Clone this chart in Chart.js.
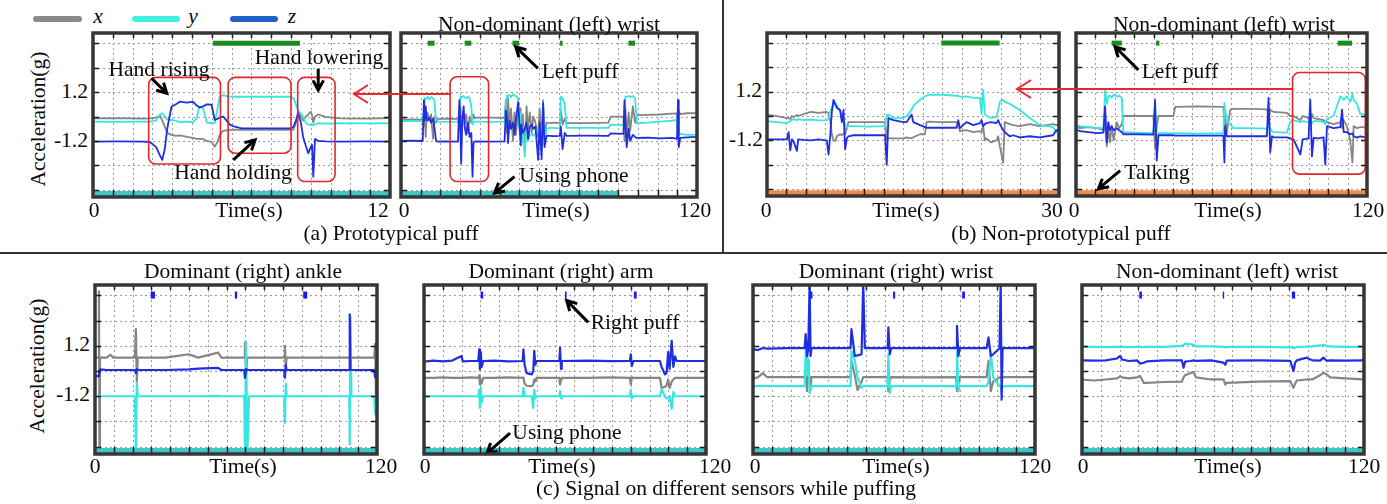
<!DOCTYPE html>
<html>
<head>
<meta charset="utf-8">
<script src="https://cdn.jsdelivr.net/npm/chart.js@4.4.0/dist/chart.umd.min.js"></script>
<style>
  body { margin: 0; background: #fff; }
  #fig { position: relative; width: 1387px; height: 504px; overflow: hidden;
         font-family: "Liberation Serif", "Times New Roman", serif; color: #0a0a0a; }
  .t { position: absolute; font-size: 21.5px; line-height: 1; white-space: nowrap; transform: translate(-50%, -50%); }
  .r { transform: translate(-100%, -50%); }
  .rot { transform: translate(-50%, -50%) rotate(-90deg); }
  .it { font-style: italic; }
  .panel { position: absolute; }
  .leg { position: absolute; height: 6px; border-radius: 3px; top: 16px; }
  #ov { position: absolute; left: 0; top: 0; pointer-events: none; }
</style>
</head>
<body>
<div id="fig">
  <div class="leg" style="left:33px;width:49px;background:#8a8a8a"></div>
  <div class="t it" style="left:98px;top:17px">x</div>
  <div class="leg" style="left:132px;width:48px;background:#40f0dc"></div>
  <div class="t it" style="left:193px;top:17px">y</div>
  <div class="leg" style="left:230px;width:48px;background:#2460cc"></div>
  <div class="t it" style="left:292px;top:17px">z</div>

  <div class="t" style="left:549px;top:25px">Non-dominant (left) wrist</div>
  <div class="t" style="left:1224px;top:25px">Non-dominant (left) wrist</div>
  <div class="t" style="left:243px;top:272px">Dominant (right) ankle</div>
  <div class="t" style="left:561px;top:272px">Dominant (right) arm</div>
  <div class="t" style="left:896px;top:272px">Dominant (right) wrist</div>
  <div class="t" style="left:1227px;top:272px">Non-dominant (left) wrist</div>

  <div class="t rot" style="left:39px;top:119px">Acceleration(g)</div>
  <div class="t rot" style="left:38px;top:366px">Acceleration(g)</div>
  <div class="t r" style="left:88px;top:92px">1.2</div>
  <div class="t r" style="left:88px;top:141px">-1.2</div>
  <div class="t r" style="left:762px;top:91px">1.2</div>
  <div class="t r" style="left:763px;top:140px">-1.2</div>
  <div class="t r" style="left:90px;top:345px">1.2</div>
  <div class="t r" style="left:90px;top:395px">-1.2</div>

  <div class="t" style="left:94px;top:211px">0</div>
  <div class="t" style="left:249px;top:211px">Time(s)</div>
  <div class="t" style="left:378px;top:211px">12</div>
  <div class="t" style="left:404px;top:211px">0</div>
  <div class="t" style="left:556px;top:211px">Time(s)</div>
  <div class="t" style="left:695px;top:211px">120</div>
  <div class="t" style="left:766px;top:211px">0</div>
  <div class="t" style="left:906px;top:211px">Time(s)</div>
  <div class="t" style="left:1052px;top:211px">30</div>
  <div class="t" style="left:1074px;top:211px">0</div>
  <div class="t" style="left:1228px;top:211px">Time(s)</div>
  <div class="t" style="left:1368px;top:211px">120</div>

  <div class="t" style="left:95px;top:467px">0</div>
  <div class="t" style="left:243px;top:467px">Time(s)</div>
  <div class="t" style="left:381px;top:467px">120</div>
  <div class="t" style="left:425px;top:467px">0</div>
  <div class="t" style="left:562px;top:467px">Time(s)</div>
  <div class="t" style="left:715px;top:467px">120</div>
  <div class="t" style="left:755px;top:467px">0</div>
  <div class="t" style="left:896px;top:467px">Time(s)</div>
  <div class="t" style="left:1035px;top:467px">120</div>
  <div class="t" style="left:1083px;top:467px">0</div>
  <div class="t" style="left:1228px;top:467px">Time(s)</div>
  <div class="t" style="left:1364px;top:467px">120</div>

  <div class="t" style="left:391px;top:234px">(a) Prototypical puff</div>
  <div class="t" style="left:1061px;top:234px">(b) Non-prototypical puff</div>
  <div class="t" style="left:726px;top:489px">(c) Signal on different sensors while puffing</div>

  <div class="t" style="left:159px;top:70px">Hand rising</div>
  <div class="t" style="left:319px;top:58px">Hand lowering</div>
  <div class="t" style="left:233px;top:173px">Hand holding</div>
  <div class="t" style="left:580px;top:72px">Left puff</div>
  <div class="t" style="left:574px;top:176px">Using phone</div>
  <div class="t" style="left:1180px;top:72px">Left puff</div>
  <div class="t" style="left:1157px;top:173px">Talking</div>
  <div class="t" style="left:635px;top:323px">Right puff</div>
  <div class="t" style="left:567px;top:433px">Using phone</div>
</div>

<script>
// ---- data ----
const gridY = [-3.6, -2.4, -1.2, 0, 1.2, 2.4, 3.6];

// (a) prototypical puff, 12 s
const a1T = [0,1,2,2.3,2.55,2.7,2.8,2.9,3,3.17,3.35,3.51,3.8,4.04,4.18,4.3,4.45,4.6,4.79,4.92,5.05,5.12,5.26,5.4,5.53,5.73,6,7,8,8.1,8.2,8.29,8.4,8.49,8.6,8.7,8.8,8.85,8.9,8.97,9.1,9.4,10,11,12];
const a1X = [-0.09,-0.08,-0.1,-0.09,-0.05,0.05,-0.2,-0.5,-0.8,-0.9,-0.95,-0.92,-1.0,-1.05,-1.1,-1.1,-1.1,-1.2,-1.25,-1.48,-1.2,-0.9,-0.7,-0.68,-0.66,-0.65,-0.66,-0.66,-0.66,-0.64,-0.3,0.2,0.0,-0.2,0.0,0.1,0.24,0.05,-0.3,0.0,0.1,-0.02,-0.09,-0.1,-0.08];
const a1Y = [-0.25,-0.26,-0.25,-0.25,-0.2,0.1,0.16,0.0,-0.15,-0.17,-0.2,-0.28,-0.25,-0.28,-0.1,0.48,0.4,-0.3,-0.33,-0.3,0.5,0.97,1.05,1.0,0.98,0.97,0.97,0.97,0.97,0.9,0.6,0.3,0.16,0.0,-0.3,-0.4,-0.42,-0.4,-0.42,-0.38,-0.33,-0.35,-0.33,-0.34,-0.33];
const a1Z = [-1.23,-1.22,-1.23,-1.25,-1.5,-1.9,-2.13,-1.6,-0.6,0.48,0.6,0.73,0.68,0.73,0.55,0.45,0.5,0.6,0.58,-0.17,-0.1,-0.05,0.0,-0.2,-0.4,-0.5,-0.58,-0.58,-0.58,-0.5,-0.2,0.16,-0.3,-1.0,-1.45,-1.8,-1.5,-1.4,-2.95,-1.1,-1.2,-1.22,-1.23,-1.22,-1.23];
const a1Puffs = [[4.85, 8.36]];
const a1Band = [0, 12];

// (a) non-dominant wrist, 120 s
const a2T = [0,4,8.8,9.3,9.6,10,10.4,10.8,11.5,12.2,13,13.6,14.2,14.9,18,23.1,23.7,24.1,24.4,24.8,25.4,25.8,26.4,27.1,27.8,28.5,29,29.4,29.8,30.5,36,42,42.5,43,43.4,44,44.6,45.4,46,46.6,47.5,48.1,48.5,48.8,49.4,50.2,50.9,51.5,52.2,53,53.6,54.5,55.6,56.2,57,57.6,58.2,59,60.3,62,64.4,64.8,65.5,66.4,67.1,75,84.1,85,90.2,90.6,91,91.5,92.3,92.9,94,94.9,95.6,100,105,110,111.9,112.3,112.6,113.2,116,120];
const a2X = [-0.15,-0.14,-0.15,-0.5,0.3,-1.0,0.2,0.16,-0.2,0.1,-1.1,0.0,-0.3,-0.12,-0.1,-0.12,-0.6,0.5,-1.5,0.0,0.2,-0.4,0.1,-0.8,0.0,-0.3,-0.1,0.1,-0.09,-0.05,-0.05,-0.06,0.8,-0.8,0.9,-0.5,0.4,-1.2,0.2,-0.9,0.3,-0.5,0.4,-1.4,0.1,-1.7,0.5,-0.6,0.2,-0.8,0.0,-0.3,-1.0,0.4,-1.6,0.8,-0.9,-0.3,-0.32,-0.3,-0.32,0.3,-0.4,-0.1,-0.32,-0.32,-0.3,0.0,0.0,-1.2,0.4,-1.0,0.2,-0.7,0.5,-0.3,0.07,0.08,0.1,0.14,0.15,-0.9,0.3,0.12,0.16,0.17];
const a2Y = [-0.22,-0.21,-0.22,0.2,0.9,0.85,0.9,0.97,0.85,0.95,0.9,0.75,-0.2,-0.25,-0.26,-0.25,0.5,0.97,0.9,0.97,1.0,0.95,0.9,0.97,0.9,0.5,-0.4,-0.3,-0.25,-0.25,-0.26,-0.25,0.6,1.05,1.0,1.05,0.95,1.1,1.05,1.0,0.9,-0.8,0.2,-1.4,-0.5,-1.97,-0.3,-1.2,-0.9,-0.85,-0.95,-0.85,-0.6,-0.9,-1.5,0.6,-1.3,-0.6,-0.56,-0.56,-0.58,0.97,0.9,0.6,-0.56,-0.56,-0.56,-0.4,-0.42,0.3,0.97,0.97,1.0,0.97,1.0,0.9,-0.33,-0.3,-0.25,-0.2,-0.17,-0.8,-0.9,-0.85,-0.9,-0.9];
const a2Z = [-1.2,-1.19,-1.2,0.8,-0.2,0.5,-0.1,-0.2,-0.05,-0.3,-0.1,-0.6,-1.2,-1.23,-1.22,-1.23,0.81,-0.8,-2.3,-0.2,0.5,-0.5,-0.9,-0.3,-1.0,-0.8,-2.95,-1.3,-1.23,-1.22,-1.23,-1.22,0.3,-0.1,-1.3,-0.2,-0.6,-0.3,-0.9,-0.1,0.7,-0.5,-1.4,-0.4,-0.8,-0.6,-0.3,-1.1,-0.5,-0.4,-0.6,-0.5,-2.13,-0.3,-2.1,0.64,-1.5,-0.95,-0.95,-0.96,-0.95,-0.5,-1.6,-0.8,-0.95,-0.94,-0.95,-0.83,-0.85,0.8,-0.4,-1.5,-0.6,-1.2,-0.9,-1.0,-1.05,-1.04,-1.07,-1.05,-1.1,0.81,-1.5,-1.05,-1.02,-1.0];
const a2Puffs = [[10.8, 13.6], [25.8, 28.5], [45.2, 47.9], [64.4, 65.5], [92.2, 94.9]];
const a2Band = [0, 88.5];

// (b) non-prototypical puff, 30 s
const b1T = [0,1,2.05,2.22,2.39,2.56,2.73,3.08,3.2,3.76,4.5,5.3,6.15,6.32,6.49,6.66,6.83,7,7.18,7.5,7.69,7.86,8.03,8.2,8.37,8.88,10.5,12.13,12.3,12.47,12.98,14,14.35,14.86,15.03,15.72,16.23,16.4,16.57,18,19.48,19.65,19.82,20.5,21.2,21.87,22.04,22.21,22.38,22.55,23,23.58,23.75,23.92,24.26,24.43,24.94,25.29,25.97,27,28.02,29.39,29.73,30];
const b1X = [0.07,0.0,-0.1,-0.1,-0.15,0.0,-0.05,0.05,0.0,0.1,0.2,0.15,0.2,0.15,-0.2,-0.9,-1.2,-1.25,-1.0,-0.9,-0.95,-0.85,-0.9,-0.6,-0.3,-0.3,-0.3,-0.3,-1.15,-1.1,-1.1,-1.1,-1.05,-1.1,-1.05,-0.9,-0.9,-0.3,-0.28,-0.3,-0.3,-0.4,-0.75,-0.7,-0.8,-0.75,-0.8,-0.5,-1.2,-1.1,-1.3,-1.2,-1.0,-1.5,-2.3,-0.3,-0.4,-0.45,-0.5,-0.4,-0.5,-0.4,-0.45,-0.4];
const b1Y = [-0.25,-0.3,-0.35,-0.3,-0.25,-0.2,-0.15,-0.2,-0.15,-0.2,-0.18,-0.22,-0.2,-0.15,0.2,0.4,0.5,0.64,0.5,0.3,0.1,-0.3,-0.5,-0.55,-0.5,-0.5,-0.52,-0.5,0.05,0.07,-0.09,-0.1,0.0,0.3,0.5,0.8,0.97,1.0,1.05,1.05,1.0,1.0,0.95,0.97,0.9,0.9,0.1,1.3,0.1,0.0,-0.09,-0.05,0.3,0.7,0.8,0.7,0.6,0.5,0.3,-0.1,-0.45,-0.55,-0.8,-0.7];
const b1Z = [-1.15,-1.15,-1.15,-0.8,-1.7,-1.15,-1.25,-1.72,-1.15,-1.18,-1.2,-1.15,-1.22,-1.9,-1.0,0.2,0.8,0.6,0.4,0.3,-0.3,0.3,-1.65,-1.1,-1.0,-0.95,-0.95,-0.95,-2.4,-0.1,-0.2,-0.3,-0.3,0.07,-0.3,-0.45,-0.55,-0.58,-0.58,-0.58,-0.58,-0.2,-0.6,-0.3,-0.45,-0.35,-0.2,-0.5,-0.4,-0.35,-0.3,-0.35,-0.2,-0.4,-0.7,-0.8,-1.0,-0.95,-1.05,-1.0,-1.05,-0.95,-0.7,-0.75];
const b1Puffs = [[17.9, 23.9]];
const b1Band = [0, 30];

// (b) non-dominant wrist, 120 s
const b2T = [0,1.65,5,9,11.3,12,12.7,13.3,14,14.7,15.5,16.8,17.8,18.9,19.5,25,31.9,32.6,33.3,34,40.2,40.9,50,60.8,61.2,61.5,62.2,63.6,64.9,72,78.7,79.4,80.1,80.8,81.5,87,88.3,89.7,92.5,93.5,95.9,96.6,97.3,98,100,102.1,102.8,103.5,106.2,109,109.7,110.4,111.7,113.1,114,114.5,115.9,117.2,120];
const b2X = [-0.5,-0.6,-0.55,-0.6,-0.7,-0.4,-1.5,-0.6,-1.3,-0.5,-1.2,-0.3,-0.6,-0.4,0.0,0.0,0.0,-1.6,-0.5,0.0,0.0,0.45,0.48,0.45,-0.8,0.2,-0.8,0.3,0.35,0.35,0.33,0.0,0.3,0.25,0.2,0.16,0.0,0.0,-0.2,0.0,-0.1,-0.3,0.1,-0.1,-0.15,-0.2,-0.3,-0.3,-0.4,-0.3,-0.6,-0.2,-0.5,-1.2,-2.3,-0.5,-0.6,-0.55,-0.55];
const b2Y = [-0.45,-0.5,-0.55,-0.6,-0.6,1.3,0.6,0.97,1.0,0.9,1.05,0.97,1.0,0.9,-0.8,-0.82,-0.85,0.5,-1.8,-0.85,-0.85,-0.85,-0.87,-0.85,0.64,0.3,-0.3,-0.4,-0.6,-0.6,-0.62,-0.4,-0.6,-0.75,-0.8,-0.82,-0.3,-0.2,-0.3,-0.25,-0.3,-0.2,-0.35,-0.25,-0.25,-0.3,-0.4,-0.15,0.0,0.97,0.9,0.8,0.97,0.7,1.1,0.8,0.6,0.1,0.07];
const b2Z = [-0.65,-0.75,-0.8,-0.85,-0.82,0.48,-1.3,-0.3,-0.7,-0.5,-0.7,-0.6,-0.7,-0.8,-0.9,-0.9,-0.92,0.8,-2.2,-0.95,-0.95,-0.97,-0.97,-0.97,-2.3,-0.5,-1.0,-1.0,-1.0,-1.0,-1.0,0.9,-1.8,-1.0,-1.05,-1.05,-1.1,-1.15,-1.9,-1.15,-1.1,0.81,-2.0,-1.08,-1.1,-1.05,-2.4,-0.5,-0.6,-0.55,0.32,-0.8,-0.8,-0.9,-0.85,-1.0,-1.07,-1.0,-1.07];
const b2Puffs = [[14.7, 18.9], [33.0, 34.4], [107.9, 113.8]];
const b2Band = [0, 120];

// (c) dominant ankle
const c1T = [0,1.5,1.7,1.9,2.1,5,6.6,7.8,9.2,17,17.4,17.8,18.2,30,40,43.9,52.4,53.8,63.5,63.8,64.3,64.8,65.6,80.5,80.8,81.2,81.5,108.2,108.4,108.7,109.1,118.8,119.2,119.7,120];
const c1X = [0.64,0.64,3.8,-3.9,0.64,0.64,0.78,0.64,0.64,0.64,2.0,-0.5,0.64,0.64,0.8,0.64,0.88,0.64,0.64,1.36,-0.2,0.64,0.64,0.64,1.2,0.15,0.64,0.64,0.64,0.64,0.64,0.64,1.3,-2.1,0.64];
const c1Y = [-1.2,-1.2,-1.2,-1.2,-1.2,-1.2,-1.2,-1.2,-1.2,-1.2,-3.95,-0.6,-1.2,-1.2,-1.2,-1.2,-1.18,-1.2,-1.2,-3.95,1.36,-3.95,-1.2,-1.2,-2.48,-0.6,-1.2,-1.2,-3.5,2.6,-1.2,-1.2,-2.0,-1.2,-1.2];
const c1Z = [-0.24,-0.24,-0.2,0.05,0.08,0.05,0.05,0.05,0.05,0.05,-0.1,0.1,0.05,0.05,0.08,0.12,0.15,0.05,0.05,-0.32,0.1,0.05,0.05,0.05,-0.32,0.3,0.05,0.05,2.7,0.05,0.05,0.05,-0.3,-0.1,0.05];
const c1Puffs = [[23.7, 25.5], [59.5, 60.5], [88.6, 90.3]];

// (c) dominant arm
const c2T = [0,4,8,12,16,16.5,20,23.1,23.5,23.8,24.2,24.5,25.2,30,36,42,42.3,42.8,43.7,45.8,46.5,46.9,47.4,47.9,57.6,57.9,58.3,58.6,70,80,87.6,88,88.4,89.1,100.4,101.1,102.5,103.2,103.9,104.5,105.4,106.1,106.8,107.5,114,120];
const c2X = [-0.32,-0.32,-0.3,-0.32,-0.32,-0.32,-0.3,-0.32,-0.2,-0.64,-0.4,-0.6,-0.32,-0.32,-0.3,-0.32,-0.3,-0.6,-0.7,-0.72,-0.65,-0.4,-0.5,-0.32,-0.32,-0.64,-0.4,-0.32,-0.32,-0.3,-0.32,-0.64,-0.3,-0.32,-0.32,-0.8,-0.75,-0.7,-0.4,-0.8,-0.5,-0.4,-0.32,-0.32,-0.32,-0.32];
const c2Y = [-1.2,-1.2,-1.2,-1.2,-1.2,-1.2,-1.2,-1.2,-0.9,-1.76,-0.8,-1.5,-1.2,-1.2,-1.2,-1.2,-0.8,-1.2,-1.2,-1.2,-1.76,-0.9,-1.3,-1.2,-1.2,-0.96,-1.3,-1.2,-1.2,-1.2,-1.2,-0.88,-1.3,-1.2,-1.2,-0.88,-1.2,-1.3,-1.3,-1.2,-1.8,-1.0,-1.2,-1.2,-1.2,-1.2];
const c2Z = [0.45,0.5,0.46,0.5,0.72,0.46,0.48,0.48,1.04,0.08,0.9,0.2,0.48,0.5,0.46,0.48,1.04,0.3,-0.1,-0.16,0.0,0.96,0.3,0.48,0.48,1.12,0.1,0.48,0.5,0.47,0.48,0.8,0.24,0.48,0.48,0.2,-0.16,-0.1,0.9,0.1,1.44,0.2,0.7,0.48,0.48,0.48];
const c2Puffs = [[24.1, 25.2], [60, 60.7], [89.3, 90.5]];

// (c) dominant wrist
const c3T = [0,2,4.3,6,15,22,22.4,23,23.5,24.1,24.5,24.9,35,41.5,41.9,43.3,44.5,46.2,46.9,47.6,57.3,57.6,58.2,58.8,70,86.4,86.8,87.4,88,99.4,100.2,101.2,102.2,104.9,105.4,105.8,106.2,120];
const c3X = [-0.35,-0.3,-0.1,-0.29,-0.29,-0.29,0.2,-0.96,0.4,-0.5,-0.8,-0.29,-0.29,-0.29,0.48,-0.2,-0.9,-0.5,-0.29,-0.29,-0.29,-0.96,-0.4,-0.29,-0.3,-0.29,-0.96,-0.6,-0.29,-0.29,0.48,-0.96,-0.5,-0.3,-0.3,-0.3,-0.29,-0.29];
const c3Y = [-0.72,-0.72,-0.7,-0.72,-0.72,-0.72,0.96,-0.2,0.6,-1.04,-0.9,-0.72,-0.72,-0.72,0.96,0.5,-0.3,-0.8,-0.72,-0.72,-0.72,0.8,-1.04,-0.72,-0.72,-0.72,0.96,-0.96,-0.72,-0.72,-0.5,0.88,-0.3,-0.72,-0.72,-1.04,-0.72,-0.72];
const c3Z = [1.05,1.0,1.1,1.07,1.09,1.09,1.76,0.7,1.0,4.2,0.72,1.09,1.09,1.09,2.0,0.72,0.75,0.8,4.2,1.09,1.09,2.08,0.8,1.09,1.09,1.09,2.16,0.72,1.09,1.09,1.6,0.72,0.8,1.09,4.2,-1.36,1.09,1.09];
const c3Puffs = [[24.1, 25.3], [59.6, 60.5], [89, 90.2]];

// (c) non-dominant wrist
const c4T = [0,5,10,14.9,16.3,17,20,23.4,24.8,26.2,27.6,35,42.5,43.2,43.9,46,47.5,48.5,55,60.2,61,61.6,75,88.6,90,90.7,91.4,95.6,98,101.3,102.7,104.1,105.6,112,120];
const c4X = [-0.4,-0.45,-0.4,-0.35,-0.24,-0.3,-0.35,-0.3,-0.24,-0.56,-0.56,-0.52,-0.5,-0.3,-0.2,-0.1,-0.05,-0.3,-0.4,-0.4,-0.64,-0.56,-0.5,-0.48,-0.8,-0.6,-0.45,-0.4,-0.4,-0.2,-0.08,-0.15,-0.3,-0.35,-0.4];
const c4Y = [1.15,1.15,1.14,1.15,1.15,1.15,1.14,1.15,1.15,1.14,1.15,1.15,1.2,1.25,1.3,1.28,1.25,1.18,1.18,1.15,1.13,1.15,1.15,1.13,1.1,1.12,1.15,1.16,1.18,1.22,1.25,1.2,1.18,1.15,1.15];
const c4Z = [0.51,0.5,0.51,0.6,0.72,0.55,0.48,0.51,0.35,0.4,0.46,0.51,0.51,0.16,0.45,0.48,0.51,0.49,0.51,0.4,0.3,0.5,0.51,0.49,0.0,0.4,0.51,0.64,0.51,0.5,0.64,0.49,0.51,0.5,0.51];
const c4Puffs = [[24.4, 25.5], [59.9, 60.5], [89.3, 90.7]];

// ---- drawing ----
const Y_MIN = -3.95, Y_MAX = 4.1, BAND_TOP = -3.66, PAD = 4;
const colX = '#858585', colY = '#36e6e2', colZ = '#1e2ee0';
const teal = '#3ec6c8', orange = '#f08a4c', green = '#1c8c1c', puffBlue = '#1a1aff';
const fig = document.getElementById('fig');

function arrow(ctx, x1, y1, x2, y2) {
  const a = Math.atan2(y2 - y1, x2 - x1), h = 11;
  ctx.beginPath();
  ctx.moveTo(x1, y1); ctx.lineTo(x2, y2);
  ctx.moveTo(x2 - h * Math.cos(a - 0.5), y2 - h * Math.sin(a - 0.5));
  ctx.lineTo(x2, y2);
  ctx.lineTo(x2 - h * Math.cos(a + 0.5), y2 - h * Math.sin(a + 0.5));
  ctx.stroke();
}

function deco(p) {
  return {
    id: 'deco_' + p.id,
    beforeDatasetsDraw(chart) {
      const { ctx, chartArea: a, scales: { x, y } } = chart;
      ctx.save();
      ctx.lineWidth = 1;
      ctx.setLineDash([2, 3]);
      ctx.strokeStyle = '#9c9c9c';
      x.ticks.slice(1, -1).forEach(tk => {
        const px = Math.round(x.getPixelForValue(tk.value)) + 0.5;
        ctx.beginPath(); ctx.moveTo(px, a.top); ctx.lineTo(px, a.bottom); ctx.stroke();
      });
      y.ticks.forEach((tk, i) => {
        const py = Math.round(y.getPixelForValue(tk.value)) + 0.5;
        ctx.strokeStyle = (i === 0 && p.redLow) ? '#c89080' : '#9c9c9c';
        ctx.beginPath(); ctx.moveTo(a.left, py); ctx.lineTo(a.right, py); ctx.stroke();
      });
      ctx.restore();
    },
    afterDatasetsDraw(chart) {
      const { ctx, chartArea: a, scales: { x, y } } = chart;
      const X = v => x.getPixelForValue(v), Y = v => y.getPixelForValue(v);
      ctx.save();
      ctx.strokeStyle = '#e2262a';
      ctx.lineWidth = 1.6;
      (p.boxes || []).forEach(([t1, t2, v1, v2]) => {
        ctx.beginPath();
        ctx.roundRect(X(t1), Y(v1), X(t2) - X(t1), Y(v2) - Y(v1), 7);
        ctx.stroke();
      });
      ctx.strokeStyle = '#000';
      ctx.lineWidth = 3;
      (p.arrows || []).forEach(([t1, v1, t2, v2]) => arrow(ctx, X(t1), Y(v1), X(t2), Y(v2)));
      // inner tick marks
      ctx.strokeStyle = '#1a1a1a';
      ctx.lineWidth = 1.5;
      x.ticks.slice(1, -1).forEach(tk => {
        const px = Math.round(X(tk.value)) + 0.5;
        ctx.beginPath();
        ctx.moveTo(px, a.bottom); ctx.lineTo(px, a.bottom - 7);
        ctx.moveTo(px, a.top); ctx.lineTo(px, a.top + 5);
        ctx.stroke();
      });
      y.ticks.forEach(tk => {
        const py = Math.round(Y(tk.value)) + 0.5;
        ctx.beginPath();
        ctx.moveTo(a.left, py); ctx.lineTo(a.left + 6, py);
        ctx.moveTo(a.right, py); ctx.lineTo(a.right - 6, py);
        ctx.stroke();
      });
      ctx.strokeStyle = '#363636';
      ctx.lineWidth = 3.5;
      ctx.strokeRect(a.left, a.top, a.right - a.left, a.bottom - a.top);
      ctx.restore();
    }
  };
}

function makePanel(p) {
  const wrap = document.createElement('div');
  wrap.className = 'panel';
  wrap.style.left = (p.L - PAD) + 'px';
  wrap.style.top = (p.T - PAD) + 'px';
  const cv = document.createElement('canvas');
  cv.width = p.W + 2 * PAD;
  cv.height = p.H + 2 * PAD;
  wrap.appendChild(cv);
  fig.insertBefore(wrap, fig.firstChild);

  const pts = vals => p.t.map((t, i) => ({ x: t, y: vals[i] }));
  const datasets = [
    { data: pts(p.x), borderColor: colX, borderWidth: p.lw, order: 3 },
    { data: pts(p.y), borderColor: colY, borderWidth: p.lw, order: 2 },
    { data: pts(p.z), borderColor: colZ, borderWidth: p.lw, order: 1 }
  ];
  p.puffs.forEach(([s, e]) => datasets.push({
    data: [{ x: s, y: p.puffY }, { x: e, y: p.puffY }],
    borderColor: p.puffColor, borderWidth: p.puffW, borderCapStyle: 'butt', order: 0
  }));
  datasets.push({
    data: [{ x: p.band[0], y: BAND_TOP }, { x: p.band[1], y: BAND_TOP }],
    borderWidth: 0, borderColor: p.bandColor, backgroundColor: p.bandColor, fill: 'start', order: 0
  });

  new Chart(cv, {
    type: 'line',
    data: { datasets },
    options: {
      responsive: false,
      animation: false,
      devicePixelRatio: 1,
      layout: { padding: PAD },
      elements: { point: { radius: 0 }, line: { tension: 0, borderJoinStyle: 'round' } },
      plugins: { legend: { display: false }, tooltip: { enabled: false } },
      scales: {
        x: {
          type: 'linear', min: 0, max: p.xmax,
          grid: { display: false }, border: { display: false }, ticks: { display: false },
          afterBuildTicks: s => { s.ticks = []; for (let i = 0; i <= 15; i++) s.ticks.push({ value: i * p.xmax / 15 }); },
          afterFit: s => { s.height = 0; }
        },
        y: {
          type: 'linear', min: Y_MIN, max: Y_MAX,
          grid: { display: false }, border: { display: false }, ticks: { display: false },
          afterBuildTicks: s => { s.ticks = gridY.map(v => ({ value: v })); },
          afterFit: s => { s.width = 0; }
        }
      }
    },
    plugins: [deco(p)]
  });
}

const topRow = { T: 33, H: 164, lw: 1.8, puffY: 3.6, puffW: 5, puffColor: green };
const botRow = { T: 285, H: 169, lw: 2.2, puffY: 3.62, puffW: 7, puffColor: puffBlue, redLow: true, bandColor: teal, xmax: 120, band: [0, 120] };

[
  Object.assign({}, topRow, { id: 'a1', L: 93, W: 297, xmax: 12, t: a1T, x: a1X, y: a1Y, z: a1Z, puffs: a1Puffs, band: a1Band, bandColor: teal,
    boxes: [[2.25, 5.15, 1.92, -2.33], [5.46, 8.0, 1.92, -1.8], [8.27, 9.78, 1.92, -3.19]],
    arrows: [[2.37, 1.87, 2.98, 1.14], [9.1, 2.35, 9.1, 1.3], [5.67, -2.13, 6.55, -1.15]] }),
  Object.assign({}, topRow, { id: 'a2', L: 401, W: 296, xmax: 120, t: a2T, x: a2X, y: a2Y, z: a2Z, puffs: a2Puffs, band: a2Band, bandColor: teal,
    boxes: [[19.9, 35.5, 1.95, -3.19]],
    arrows: [[55.5, 2.36, 46.5, 3.42], [46.0, -2.95, 37.9, -3.76]] }),
  Object.assign({}, topRow, { id: 'b1', L: 767, W: 292, H: 163, xmax: 30, t: b1T, x: b1X, y: b1Y, z: b1Z, puffs: b1Puffs, band: b1Band, bandColor: orange }),
  Object.assign({}, topRow, { id: 'b2', L: 1076, W: 291, H: 163, xmax: 120, t: b2T, x: b2X, y: b2Y, z: b2Z, puffs: b2Puffs, band: b2Band, bandColor: orange,
    boxes: [[89.3, 119.3, 2.15, -2.87]],
    arrows: [[25.7, 2.28, 16.1, 3.42], [18.2, -2.7, 9.2, -3.6]] }),
  Object.assign({}, botRow, { id: 'c1', L: 95, W: 282, t: c1T, x: c1X, y: c1Y, z: c1Z, puffs: c1Puffs }),
  Object.assign({}, botRow, { id: 'c2', L: 424, W: 282, t: c2T, x: c2X, y: c2Y, z: c2Z, puffs: c2Puffs,
    arrows: [[69.9, 2.32, 60.7, 3.36], [36.6, -2.96, 26.7, -3.92]] }),
  Object.assign({}, botRow, { id: 'c3', L: 753, W: 282, t: c3T, x: c3X, y: c3Y, z: c3Z, puffs: c3Puffs }),
  Object.assign({}, botRow, { id: 'c4', L: 1082, W: 282, t: c4T, x: c4X, y: c4Y, z: c4Z, puffs: c4Puffs })
].forEach(makePanel);

// figure-level dividers and cross-panel pointers
const svgNS = 'http://www.w3.org/2000/svg';
const ov = document.createElementNS(svgNS, 'svg');
ov.setAttribute('id', 'ov');
ov.setAttribute('width', 1387);
ov.setAttribute('height', 504);
ov.innerHTML =
  '<line x1="0" y1="253" x2="1387" y2="253" stroke="#333" stroke-width="2"/>' +
  '<line x1="723" y1="0" x2="723" y2="253" stroke="#333" stroke-width="2"/>' +
  '<path d="M451 94 H355 M368 85 L354 94 L368 103" stroke="#e8282a" stroke-width="2" fill="none"/>' +
  '<path d="M1292 89 H1019 M1031 80 L1017 89 L1031 98" stroke="#e8282a" stroke-width="2" fill="none"/>';
fig.appendChild(ov);
</script>
</body>
</html>
